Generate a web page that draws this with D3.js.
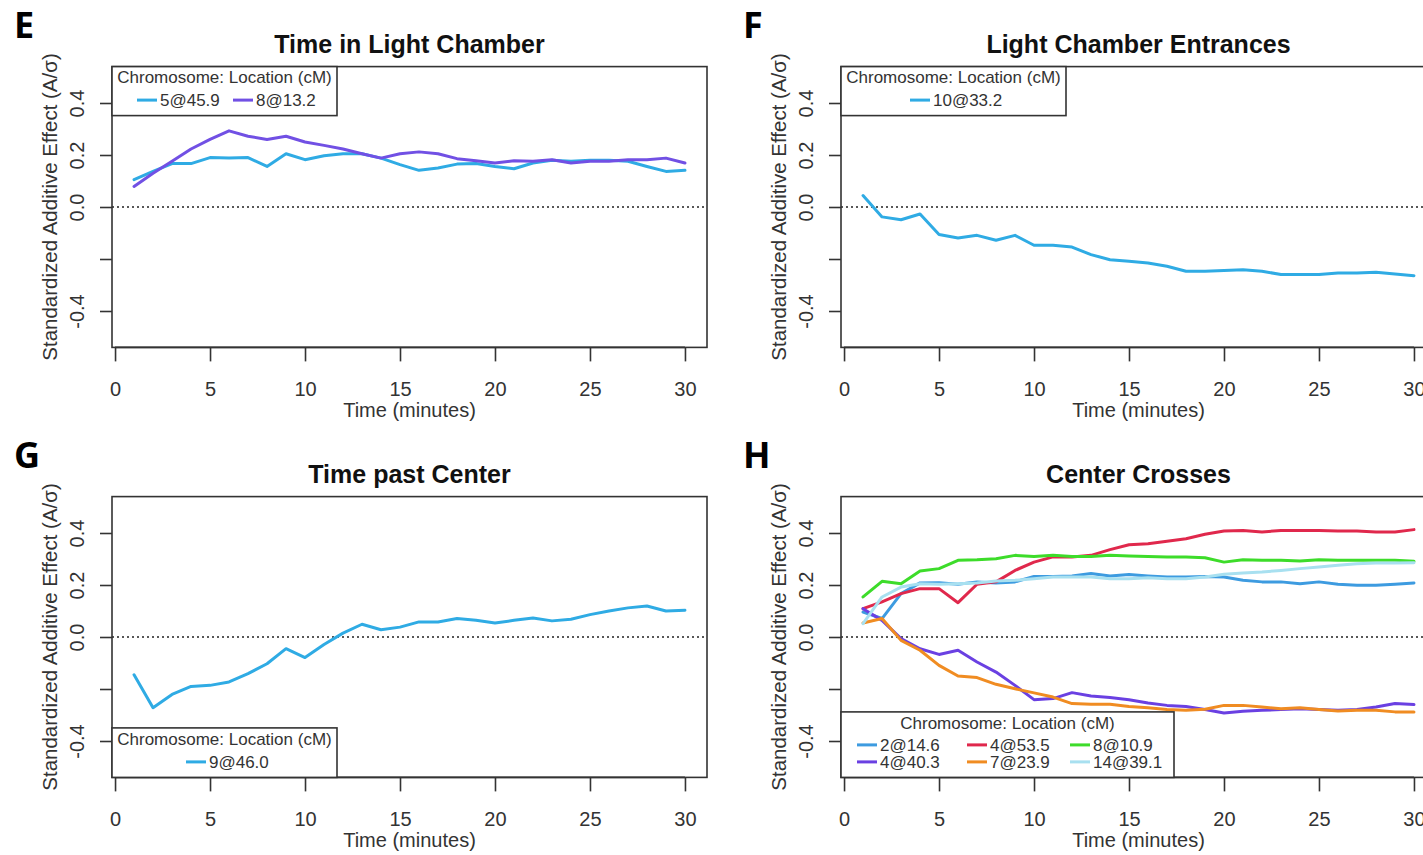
<!DOCTYPE html>
<html>
<head>
<meta charset="utf-8">
<script src="https://cdn.jsdelivr.net/npm/d3@7"></script>
<style>
  body { margin: 0; background: #fff; }
  svg { display: block; font-family: "Liberation Sans", Arial, sans-serif; }
</style>
</head>
<body>
<div id="chart"></div>
<script>
// minutes 1..30 on the x axis
const minutes = [1,2,3,4,5,6,7,8,9,10,11,12,13,14,15,16,17,18,19,20,21,22,23,24,25,26,27,28,29,30];
const xTicks = [0,5,10,15,20,25,30];
const yTicks = [-0.4,-0.2,0,0.2,0.4];
const yTickLabels = ["-0.4","","0.0","0.2","0.4"];

const panelLetters = ["E","F","G","H"];
const panelTitles = ["Time in Light Chamber","Light Chamber Entrances","Time past Center","Center Crosses"];
const legendTitle = "Chromosome: Location (cM)";

// E: Time in Light Chamber
const light_5_45_9 = [0.105,0.137,0.167,0.167,0.190,0.188,0.190,0.156,0.205,0.182,0.197,0.205,0.205,0.188,0.163,0.141,0.150,0.165,0.167,0.156,0.147,0.169,0.180,0.176,0.180,0.180,0.176,0.156,0.137,0.141];
const light_8_13_2 = [0.079,0.130,0.176,0.223,0.260,0.293,0.272,0.260,0.272,0.250,0.237,0.223,0.205,0.188,0.205,0.212,0.205,0.186,0.178,0.169,0.178,0.176,0.182,0.169,0.176,0.176,0.182,0.182,0.188,0.169];

// F: Light Chamber Entrances
const entr_10_33_2 = [0.044,-0.038,-0.049,-0.027,-0.106,-0.119,-0.109,-0.128,-0.109,-0.147,-0.147,-0.154,-0.183,-0.203,-0.209,-0.215,-0.228,-0.247,-0.247,-0.244,-0.241,-0.247,-0.260,-0.260,-0.260,-0.254,-0.254,-0.251,-0.258,-0.264];

// G: Time past Center
const past_9_46_0 = [-0.145,-0.272,-0.221,-0.190,-0.186,-0.173,-0.141,-0.103,-0.045,-0.079,-0.029,0.015,0.049,0.028,0.038,0.058,0.058,0.071,0.064,0.054,0.064,0.073,0.062,0.068,0.086,0.100,0.112,0.119,0.100,0.103];

// H: Center Crosses
const cross_2_14_6 = [0.096,0.071,0.167,0.208,0.209,0.203,0.212,0.208,0.212,0.233,0.233,0.235,0.244,0.235,0.240,0.235,0.231,0.231,0.233,0.231,0.218,0.212,0.212,0.205,0.212,0.203,0.199,0.199,0.203,0.208];
const cross_4_53_5 = [0.109,0.135,0.167,0.186,0.186,0.132,0.203,0.212,0.256,0.288,0.308,0.308,0.314,0.336,0.355,0.359,0.368,0.378,0.395,0.408,0.410,0.404,0.410,0.410,0.410,0.408,0.408,0.404,0.404,0.413];
const cross_8_10_9 = [0.154,0.214,0.205,0.254,0.263,0.295,0.297,0.301,0.314,0.310,0.314,0.310,0.310,0.314,0.312,0.310,0.308,0.308,0.305,0.288,0.297,0.295,0.295,0.292,0.297,0.295,0.295,0.295,0.295,0.291];
const cross_4_40_3 = [0.109,0.064,-0.006,-0.045,-0.067,-0.051,-0.096,-0.135,-0.186,-0.241,-0.237,-0.214,-0.227,-0.233,-0.241,-0.254,-0.263,-0.267,-0.279,-0.292,-0.286,-0.282,-0.279,-0.276,-0.279,-0.282,-0.279,-0.269,-0.256,-0.260];
const cross_7_23_9 = [0.054,0.071,-0.013,-0.051,-0.109,-0.150,-0.156,-0.182,-0.199,-0.215,-0.231,-0.256,-0.259,-0.259,-0.267,-0.272,-0.279,-0.282,-0.278,-0.263,-0.263,-0.269,-0.276,-0.272,-0.279,-0.285,-0.282,-0.282,-0.288,-0.288];
const cross_14_39_1 = [0.051,0.154,0.192,0.205,0.203,0.205,0.208,0.215,0.218,0.224,0.231,0.231,0.231,0.224,0.224,0.228,0.224,0.224,0.231,0.241,0.246,0.250,0.256,0.263,0.269,0.276,0.282,0.285,0.285,0.286];

const C = {
  sky: "#2fabe4", violet: "#7150e4", blue: "#3d9be0", red: "#e0284c",
  green: "#3ddc2a", purple: "#6a40e2", orange: "#f08c22", pale: "#a8e0f0"
};

const panels = [
  { dx: 0, dy: 0,
    series: [
      { label: "5@45.9", values: light_5_45_9, color: C.sky },
      { label: "8@13.2", values: light_8_13_2, color: C.violet }
    ],
    legend: { top: true, w: 225, h: 49, titleY: 16.5, rowY: [39.5],
      items: [{ row: 0, x: 25 }, { row: 0, x: 121 }] } },
  { dx: 729, dy: 0,
    series: [ { label: "10@33.2", values: entr_10_33_2, color: C.sky } ],
    legend: { top: true, w: 225, h: 49, titleY: 16.5, rowY: [39.5],
      items: [{ row: 0, x: 69 }] } },
  { dx: 0, dy: 430,
    series: [ { label: "9@46.0", values: past_9_46_0, color: C.sky } ],
    legend: { top: false, w: 225, h: 49.5, titleY: 17, rowY: [40],
      items: [{ row: 0, x: 74 }] } },
  { dx: 729, dy: 430,
    series: [
      { label: "2@14.6", values: cross_2_14_6, color: C.blue },
      { label: "4@53.5", values: cross_4_53_5, color: C.red },
      { label: "8@10.9", values: cross_8_10_9, color: C.green },
      { label: "4@40.3", values: cross_4_40_3, color: C.purple },
      { label: "7@23.9", values: cross_7_23_9, color: C.orange },
      { label: "14@39.1", values: cross_14_39_1, color: C.pale }
    ],
    legend: { top: false, w: 333, h: 65.5, titleY: 17, rowY: [39, 56],
      items: [{ row: 0, x: 16 }, { row: 0, x: 126 }, { row: 0, x: 229 },
              { row: 1, x: 16 }, { row: 1, x: 126 }, { row: 1, x: 229 }] } }
];

const svg = d3.select("#chart").append("svg")
  .attr("width", 1423).attr("height", 855);

const x = d3.scaleLinear().domain([-0.16, 31.16]).range([112, 707]);
const y = d3.scaleLinear().domain([-0.54, 0.54]).range([347.4, 66.6]);
const axisColor = "#333";

panels.forEach((p, i) => {
  const g = svg.append("g").attr("transform", `translate(${p.dx},${p.dy})`);
  const [x0, x1] = x.range();
  const [y1, y0] = y.range();

  g.append("text").attr("x", 14).attr("y", 38)
    .style("font-family", "'Open Sans', 'DejaVu Sans', sans-serif")
    .style("font-weight", 700).style("font-size", "36px").attr("fill", "#000")
    .text(panelLetters[i]);

  g.append("text").attr("x", (x0 + x1) / 2).attr("y", 53)
    .attr("text-anchor", "middle").style("font-weight", 700).style("font-size", "25px")
    .attr("fill", "#111").text(panelTitles[i]);

  // x axis
  const xa = g.append("g").attr("transform", `translate(0,${y1})`)
    .call(d3.axisBottom(x).tickValues(xTicks).tickFormat(d3.format("d")).tickSize(14).tickPadding(20));
  xa.select(".domain").attr("d", `M${x(0)},0H${x(30)}`);
  xa.selectAll("line, .domain").attr("stroke", axisColor).attr("stroke-width", 1.6);
  xa.selectAll("text").style("font-size", "20px").attr("fill", "#333").attr("dy", "0.75em");

  // y axis
  const ya = g.append("g").attr("transform", `translate(${x0},0)`)
    .call(d3.axisLeft(y).tickValues(yTicks).tickSize(12)
      .tickFormat((d, k) => yTickLabels[k]));
  ya.select(".domain").remove();
  ya.selectAll("line").attr("stroke", axisColor).attr("stroke-width", 1.6);
  ya.selectAll("text")
    .attr("x", null).attr("dy", null)
    .attr("transform", "translate(-28,0) rotate(-90)")
    .attr("text-anchor", "middle")
    .style("font-size", "20px").attr("fill", "#333");

  g.append("text")
    .attr("transform", `translate(57,${(y0 + y1) / 2}) rotate(-90)`)
    .attr("text-anchor", "middle").style("font-size", "20.5px").attr("fill", "#333")
    .text("Standardized Additive Effect (A/\u03c3)");

  g.append("text").attr("x", (x0 + x1) / 2).attr("y", 417)
    .attr("text-anchor", "middle").style("font-size", "20px").attr("fill", "#333")
    .text("Time (minutes)");

  // zero reference line
  g.append("line").attr("x1", x0).attr("x2", x1).attr("y1", y(0)).attr("y2", y(0))
    .attr("stroke", "#222").attr("stroke-width", 1.5).attr("stroke-dasharray", "2,3");

  const line = d3.line().x((d, k) => x(minutes[k])).y(d => y(d));
  g.selectAll("path.series").data(p.series).enter().append("path")
    .attr("class", "series")
    .attr("d", s => line(s.values))
    .attr("fill", "none").attr("stroke", s => s.color)
    .attr("stroke-width", 3).attr("stroke-linejoin", "round").attr("stroke-linecap", "round");

  // plot frame
  g.append("rect").attr("x", x0).attr("y", y0).attr("width", x1 - x0).attr("height", y1 - y0)
    .attr("fill", "none").attr("stroke", axisColor).attr("stroke-width", 1.6);

  // legend
  const L = p.legend;
  const ly = L.top ? y0 : y1 - L.h;
  const lg = g.append("g").attr("transform", `translate(${x0},${ly})`);
  lg.append("rect").attr("width", L.w).attr("height", L.h)
    .attr("fill", "#fff").attr("stroke", axisColor).attr("stroke-width", 1.6);
  lg.append("text").attr("x", L.w / 2).attr("y", L.titleY).attr("text-anchor", "middle")
    .style("font-size", "17px").attr("fill", "#333").text(legendTitle);
  p.series.forEach((s, k) => {
    const it = L.items[k];
    const ry = L.rowY[it.row];
    lg.append("line").attr("x1", it.x).attr("x2", it.x + 20)
      .attr("y1", ry - 6).attr("y2", ry - 6)
      .attr("stroke", s.color).attr("stroke-width", 3);
    lg.append("text").attr("x", it.x + 23).attr("y", ry)
      .style("font-size", "17px").attr("fill", "#333").text(s.label);
  });
});
</script>
</body>
</html>
